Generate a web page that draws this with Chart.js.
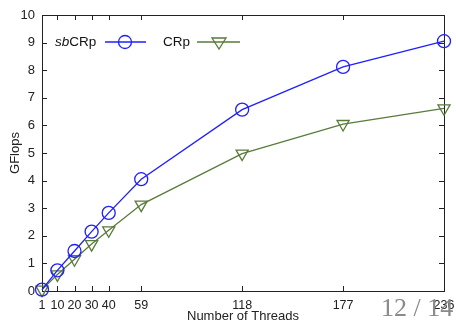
<!DOCTYPE html>
<html>
<head>
<meta charset="utf-8">
<script src="https://cdn.jsdelivr.net/npm/chart.js@4"></script>
<style>
  html, body { margin: 0; padding: 0; background: #fff; }
  #wrap { position: relative; width: 456px; height: 324px; overflow: hidden; }
  #page { position: absolute; left: 381px; top: 293px; font-family: "Liberation Serif", "DejaVu Serif", serif;
          font-size: 26px; color: #8a8a8a; white-space: nowrap; }
</style>
</head>
<body>
<div id="wrap">
  <canvas id="myChart" width="456" height="324"></canvas>
  <div id="page">12 / 14</div>
</div>
<script>
// threads on x, GFlops on y
var threads = [1, 10, 20, 30, 40, 59, 118, 177, 236];
var sbCRp = [0.05, 0.75, 1.45, 2.15, 2.83, 4.05, 6.57, 8.12, 9.05];
var CRp = [0.05, 0.6, 1.15, 1.7, 2.2, 3.13, 4.98, 6.05, 6.62];
var xTicks = [1, 10, 20, 30, 40, 59, 118, 177, 236];
var yTicks = [0, 1, 2, 3, 4, 5, 6, 7, 8, 9, 10];

var blue = "#1f1fff";
var green = "#5a7a3a";
var font = "'Liberation Sans', Arial, sans-serif";

function pts(ys) {
  return threads.map(function(t, i) { return { x: t, y: ys[i] }; });
}

// gnuplot style box with inward ticks
var framePlugin = {
  id: "frame",
  beforeDatasetsDraw: function(chart) {
    var ctx = chart.ctx;
    var a = chart.chartArea;
    var xs = chart.scales.x;
    var ys = chart.scales.y;
    ctx.save();
    ctx.strokeStyle = "#222";
    ctx.lineWidth = 1;
    ctx.strokeRect(a.left + 0.5, a.top + 0.5, a.right - a.left, a.bottom - a.top);
    ctx.beginPath();
    xTicks.forEach(function(v) {
      var px = Math.round(xs.getPixelForValue(v)) + 0.5;
      ctx.moveTo(px, a.bottom); ctx.lineTo(px, a.bottom - 5);
      ctx.moveTo(px, a.top); ctx.lineTo(px, a.top + 5);
    });
    yTicks.forEach(function(v) {
      var py = Math.round(ys.getPixelForValue(v)) + 0.5;
      ctx.moveTo(a.left, py); ctx.lineTo(a.left + 5, py);
      ctx.moveTo(a.right, py); ctx.lineTo(a.right - 5, py);
    });
    ctx.stroke();
    ctx.restore();
  }
};

// legend: text first, then sample line + marker
var legendPlugin = {
  id: "keybox",
  afterDatasetsDraw: function(chart) {
    var ctx = chart.ctx;
    var y = 42;
    ctx.save();
    ctx.fillStyle = "#111";
    ctx.textBaseline = "middle";
    ctx.font = "italic 13.5px " + font;
    ctx.fillText("sb", 55, y);
    var w = ctx.measureText("sb").width;
    ctx.font = "13.5px " + font;
    ctx.fillText("CRp", 55 + w, y);
    ctx.fillText("CRp", 163, y);

    ctx.lineWidth = 1.3;
    ctx.strokeStyle = blue;
    ctx.beginPath(); ctx.moveTo(105, y); ctx.lineTo(146, y); ctx.stroke();
    ctx.beginPath(); ctx.arc(125, y, 6.5, 0, Math.PI * 2); ctx.stroke();

    ctx.strokeStyle = green;
    ctx.beginPath(); ctx.moveTo(197, y); ctx.lineTo(240, y); ctx.stroke();
    ctx.beginPath();
    ctx.moveTo(212, y - 4); ctx.lineTo(226, y - 4); ctx.lineTo(219, y + 7); ctx.closePath();
    ctx.stroke();
    ctx.restore();
  }
};

var ctx = document.getElementById("myChart").getContext("2d");
var chart = new Chart(ctx, {
  type: "line",
  data: {
    datasets: [
      {
        label: "sbCRp",
        data: pts(sbCRp),
        borderColor: blue,
        borderWidth: 1.3,
        pointStyle: "circle",
        pointRadius: 6.5,
        pointBorderWidth: 1.3,
        pointBorderColor: blue,
        pointBackgroundColor: "rgba(0,0,0,0)",
        tension: 0,
        fill: false
      },
      {
        label: "CRp",
        data: pts(CRp),
        borderColor: green,
        borderWidth: 1.3,
        pointStyle: "triangle",
        rotation: 180,
        pointRadius: 7,
        pointBorderWidth: 1.3,
        pointBorderColor: green,
        pointBackgroundColor: "rgba(0,0,0,0)",
        tension: 0,
        fill: false
      }
    ]
  },
  options: {
    responsive: false,
    animation: false,
    clip: false,
    layout: { padding: { left: 0, right: 12, top: 15, bottom: 0 } },
    plugins: {
      legend: { display: false },
      tooltip: { enabled: false }
    },
    scales: {
      x: {
        type: "linear",
        min: 1,
        max: 236,
        afterBuildTicks: function(scale) {
          scale.ticks = xTicks.map(function(v) { return { value: v }; });
        },
        afterFit: function(scale) { scale.height = 33; },
        grid: { display: false, drawTicks: false },
        border: { display: false },
        ticks: {
          autoSkip: false,
          maxRotation: 0,
          padding: 1,
          color: "#222",
          font: { family: font, size: 12.5, lineHeight: 2.2 }
        },
        title: {
          display: true,
          text: "Number of Threads",
          color: "#222",
          padding: 0,
          font: { family: font, size: 13 }
        }
      },
      y: {
        min: 0,
        max: 10,
        afterBuildTicks: function(scale) {
          scale.ticks = yTicks.map(function(v) { return { value: v }; });
        },
        afterFit: function(scale) { scale.width = 42; },
        grid: { display: false, drawTicks: false },
        border: { display: false },
        ticks: {
          padding: 7,
          color: "#222",
          font: { family: font, size: 13 }
        },
        title: {
          display: true,
          text: "GFlops",
          color: "#222",
          padding: { top: 8, bottom: 0 },
          font: { family: font, size: 13 }
        }
      }
    }
  },
  plugins: [framePlugin, legendPlugin]
});
</script>
</body>
</html>
